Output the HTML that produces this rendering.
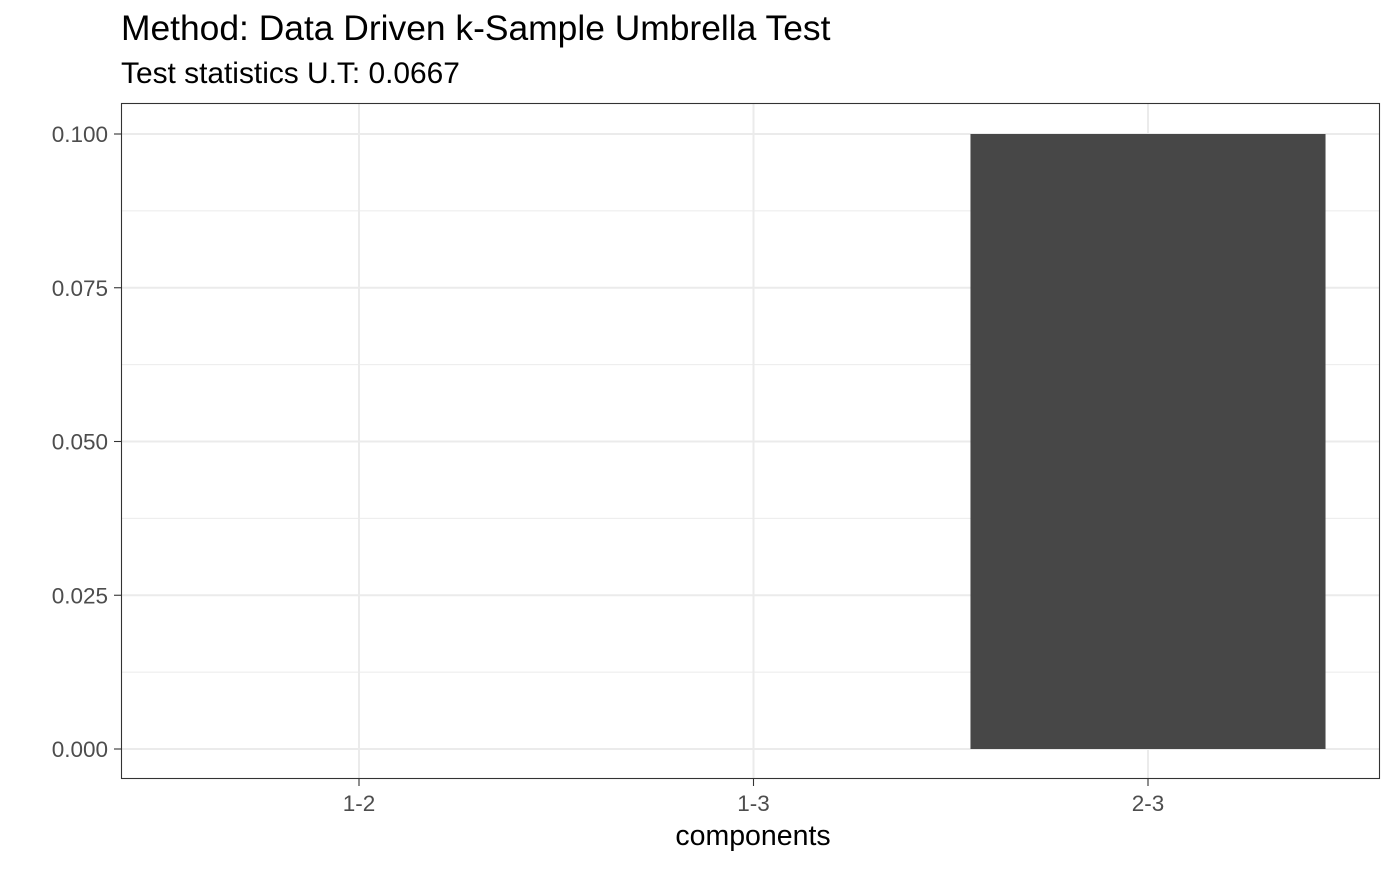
<!DOCTYPE html>
<html><head><meta charset="utf-8"><style>
body{margin:0;background:#fff;font-family:"Liberation Sans",Arial,sans-serif}
svg text{font-family:"Liberation Sans",Arial,sans-serif}
</style></head><body>
<svg id="chart" width="1400" height="865">
<text x="121" y="40" font-size="35.4" fill="#000">Method: Data Driven k-Sample Umbrella Test</text>
<text x="121" y="83" font-size="29.9" fill="#000">Test statistics U.T: 0.0667</text>
<g id="grid"></g><g id="bars"></g><g id="axes"></g>
<rect x="121.5" y="103.5" width="1258" height="675" fill="none" stroke="#333" stroke-width="1.1"/>
<text x="753" y="845" font-size="28.5" text-anchor="middle" fill="#000">components</text>
</svg>
<script>
const categories=["1-2","1-3","2-3"];
const values=[0,0,0.1];
const yTicks=[0,0.025,0.05,0.075,0.1];
const yTickLabels=["0.000","0.025","0.050","0.075","0.100"];
const NS="http://www.w3.org/2000/svg";
const L=121,R=1380,T=103,B=779;
const y=v=>749-v*6150;
const step=394.5;
const x=i=>359+step*i;
function mk(t,a,p){const e=document.createElementNS(NS,t);for(const k in a)e.setAttribute(k,a[k]);p.appendChild(e);return e;}
const g=document.getElementById('grid'),b=document.getElementById('bars'),ax=document.getElementById('axes');
for(let i=0;i<yTicks.length-1;i++){const m=(yTicks[i]+yTicks[i+1])/2;
 const l=mk('line',{x1:L,x2:R,y1:y(m),y2:y(m),stroke:'#ebebeb','stroke-width':1},g);
 
 }
yTicks.forEach((v,i)=>{
 const l=mk('line',{x1:L,x2:R,y1:y(v),y2:y(v),stroke:'#ebebeb','stroke-width':2},g);
 
 
 const t=mk('line',{x1:L-7,x2:L,y1:y(v),y2:y(v),stroke:'#333','stroke-width':1.1},ax);
 
 
 const tx=mk('text',{x:L-13,y:y(v)+8,'font-size':22.5,'text-anchor':'end',fill:'#4d4d4d'},ax);
 tx.textContent=yTickLabels[i];
 
 
});
categories.forEach((c,i)=>{
 const l=mk('line',{x1:x(i),x2:x(i),y1:T,y2:B,stroke:'#ebebeb','stroke-width':2},g);
 
 
 const w=step*0.9;
 const r=mk('rect',{x:x(i)-w/2,y:Math.min(y(values[i]),y(0)),width:w,height:Math.abs(y(0)-y(values[i])),fill:'#474747'},b);
 
 
 const t=mk('line',{x1:x(i),x2:x(i),y1:B,y2:B+7,stroke:'#333','stroke-width':1.1},ax);
 
 
 const tx=mk('text',{x:x(i),y:811,'font-size':22.5,'text-anchor':'middle',fill:'#4d4d4d'},ax);
 tx.textContent=c;
 
 
});
</script>
</body></html>
